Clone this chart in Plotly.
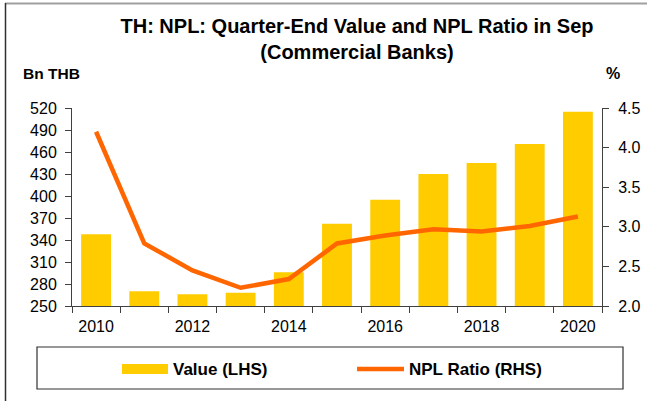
import plotly.graph_objects as go

years = [2010, 2011, 2012, 2013, 2014, 2015, 2016, 2017, 2018, 2019, 2020]
npl_value = [348, 270, 266, 268, 296, 362, 395, 430, 445, 471, 515]
npl_ratio = [4.20, 2.79, 2.45, 2.23, 2.34, 2.79, 2.89, 2.97, 2.94, 3.01, 3.13]
left_ticks = [250, 280, 310, 340, 370, 400, 430, 460, 490, 520]
right_ticks = [2.0, 2.5, 3.0, 3.5, 4.0, 4.5]
x_labels = [2010, 2012, 2014, 2016, 2018, 2020]

W, H = 647, 401
L, R, T, B = 72, 45, 108, 95
PW, PH = W - L - R, H - T - B

def px(x):
    return (x - L) / PW

def py(y):
    return (H - B - y) / PH

BAR = "#FFCC00"
LINE = "#FF6600"
AX = "#404040"
FONT = "Liberation Sans, Arial, sans-serif"

fig = go.Figure()
fig.add_trace(go.Bar(x=years, y=npl_value, marker=dict(color=BAR, line_width=0),
                     width=0.62, name="Value (LHS)", showlegend=False))
fig.add_trace(go.Scatter(x=years, y=npl_ratio, mode="lines", yaxis="y2",
                         line=dict(color=LINE, width=4.5), name="NPL Ratio (RHS)",
                         showlegend=False))

fig.update_layout(
    width=W, height=H,
    margin=dict(l=L, r=R, t=T, b=B, autoexpand=False),
    paper_bgcolor="white", plot_bgcolor="white",
    font=dict(family=FONT, size=16, color="black"),
    title=dict(text="<b>TH: NPL: Quarter-End Value and NPL Ratio in Sep<br>(Commercial Banks)</b>",
               x=357 / W, xanchor="center", xref="container",
               y=(H - 33) / H, yanchor="top", yref="container",
               font=dict(size=20, family=FONT, color="black")),
    xaxis=dict(range=[2009.5, 2020.5], tickmode="array", tickvals=x_labels,
               ticks="", showgrid=False, zeroline=False, automargin=False,
               showline=True, linecolor=AX, linewidth=1,
               tickfont=dict(size=16), ticklabelstandoff=6,
               minor=dict(tickmode="array",
                          tickvals=[y - 0.5 for y in years] + [2020.5],
                          ticks="outside", ticklen=6, tickcolor=AX, showgrid=False)),
    yaxis=dict(range=[250, 520], tickmode="array", tickvals=left_ticks, automargin=False,
               ticks="outside", ticklen=6, tickcolor=AX, ticklabelstandoff=5,
               showline=True, linecolor=AX, linewidth=1,
               showgrid=False, zeroline=False, tickfont=dict(size=16)),
    yaxis2=dict(range=[2.0, 4.5], tickmode="array", tickvals=right_ticks,
                ticktext=[f"{v:.1f}" for v in right_ticks], automargin=False,
                overlaying="y", side="right",
                ticks="outside", ticklen=6, tickcolor=AX, ticklabelstandoff=6,
                showline=True, linecolor=AX, linewidth=1,
                showgrid=False, zeroline=False, tickfont=dict(size=16)),
)

# axis unit labels
fig.add_annotation(text="<b>Bn THB</b>", x=px(21), y=py(73), xref="paper", yref="paper",
                   xanchor="left", yanchor="middle", showarrow=False,
                   font=dict(size=15.5, family=FONT))
fig.add_annotation(text="<b>%</b>", x=px(613), y=py(73), xref="paper", yref="paper",
                   xanchor="center", yanchor="middle", showarrow=False,
                   font=dict(size=16, family=FONT))

# outer frame (top and left edges)
fig.add_shape(type="line", xref="paper", yref="paper", x0=px(5), x1=px(647), y0=py(3.5), y1=py(3.5),
              line=dict(color="#A0A0A0", width=2))
fig.add_shape(type="line", xref="paper", yref="paper", x0=px(5.5), x1=px(5.5), y0=py(3), y1=py(401),
              line=dict(color="#303030", width=1.5))

# custom legend
fig.add_shape(type="rect", xref="paper", yref="paper", x0=px(37), x1=px(623), y0=py(347), y1=py(389),
              line=dict(color="#303030", width=1.2), fillcolor="white")
ly = 369
fig.add_shape(type="rect", xref="paper", yref="paper", x0=px(122), x1=px(168), y0=py(ly - 5), y1=py(ly + 5),
              line_width=0, fillcolor=BAR)
fig.add_annotation(text="<b>Value (LHS)</b>", x=px(171), y=py(ly), xref="paper", yref="paper",
                   xanchor="left", yanchor="middle", showarrow=False, font=dict(size=17, family=FONT))
fig.add_shape(type="line", xref="paper", yref="paper", x0=px(357), x1=px(404), y0=py(ly), y1=py(ly),
              line=dict(color=LINE, width=4.5))
fig.add_annotation(text="<b>NPL Ratio (RHS)</b>", x=px(407), y=py(ly), xref="paper", yref="paper",
                   xanchor="left", yanchor="middle", showarrow=False, font=dict(size=17, family=FONT))

fig.write_html("out.html", config={"displayModeBar": False},
               post_script="document.body.style.margin='0';document.body.style.overflow='hidden';")
